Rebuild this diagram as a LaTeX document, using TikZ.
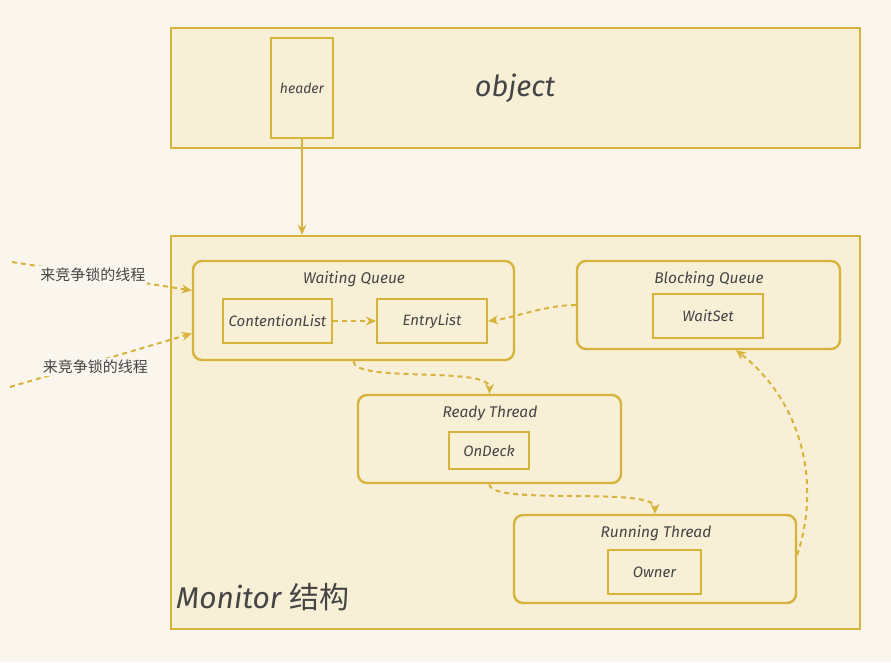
\documentclass[tikz,border=0pt]{standalone}
\usepackage{fontspec}
\setmainfont{Fira Sans}
\newfontfamily\cjkfont{Noto Sans CJK SC}
\usetikzlibrary{arrows.meta,calc}
\definecolor{bgc}{HTML}{FAF6EE}
\definecolor{boxfill}{HTML}{F8EFD7}
\definecolor{gold}{HTML}{D8B33C}
\definecolor{txt}{HTML}{454545}
\tikzset{
  x=1pt,y=-1pt,
  outerbox/.style={draw=gold,fill=boxfill,line width=2.6pt,minimum width=#1,inner sep=0pt},
  bigbox/.style 2 args={draw=gold,fill=boxfill,line width=2.4pt,rounded corners=9pt,minimum width=#1,minimum height=#2,inner sep=0pt},
  smallbox/.style 2 args={draw=gold,fill=boxfill,line width=2.2pt,minimum width=#1,minimum height=#2,inner sep=0pt},
  lab/.style={text=txt,font=\itshape\fontsize{15}{17}\selectfont,inner sep=0pt},
  title/.style={text=txt,font=\itshape\fontsize{15.5}{18}\selectfont,inner sep=0pt},
  dasharrow/.style={draw=gold,line width=2pt,dash pattern=on 5pt off 4pt,-{Stealth[length=10pt,width=9pt]}},
  solidarrow/.style={draw=gold,line width=1.8pt,-{Stealth[length=10pt,width=9pt]}},
  cnlab/.style={text=txt,font=\cjkfont\fontsize{15}{17}\selectfont,fill=bgc,inner sep=2pt},
}
\begin{document}
\begin{tikzpicture}
\fill[bgc] (0,0) rectangle (891,662);
\useasboundingbox (0,0) rectangle (891,662);
% object
\node[outerbox=689pt,minimum height=120pt] (obj) at (515.5,88) {};
\node[text=txt,font=\itshape\fontsize{29}{33}\selectfont,inner sep=0pt] (objt) at (515,88) {object};
\node[smallbox={62pt}{100pt},line width=2.4pt] (hdr) at (302,88) {};
\node[lab,font=\itshape\fontsize{14}{16}\selectfont] (hdrt) at (302,88) {header};
% monitor
\node[outerbox=689pt,minimum height=393pt] (mon) at (515.5,432.5) {};
\node[text=txt,font=\itshape\fontsize{30}{33}\selectfont,inner sep=0pt,anchor=west] (mont) at (176,597) {Monitor {\cjkfont\upshape 结构}};
\draw[solidarrow] (hdr.south) -- (hdr.south |- mon.north);
% waiting queue
\node[bigbox={321pt}{99pt}] (wq) at (353.5,310.5) {};
\node[title] (wqt) at (354,279) {Waiting Queue};
\node[smallbox={109pt}{44pt}] (cl) at (277.5,321) {};
\node[lab] (clt) at (277.5,321) {ContentionList};
\node[smallbox={110pt}{44pt}] (el) at (432,321) {};
\node[lab] (elt) at (432,321) {EntryList};
% blocking queue
\node[bigbox={263pt}{88pt}] (bq) at (708.5,305) {};
\node[title] (bqt) at (709,279) {Blocking Queue};
\node[smallbox={110pt}{44pt}] (ws) at (708,316) {};
\node[lab] (wst) at (708,316) {WaitSet};
% ready thread
\node[bigbox={263pt}{88pt}] (rt) at (489.5,439) {};
\node[title] (rtt) at (490,413) {Ready Thread};
\node[smallbox={80pt}{37pt}] (od) at (489,450.5) {};
\node[lab] (odt) at (489,450.5) {OnDeck};
% running thread
\node[bigbox={282pt}{88pt}] (run) at (655,559) {};
\node[title] (runt) at (656,533) {Running Thread};
\node[smallbox={93pt}{44pt}] (ow) at (654.5,572) {};
\node[lab] (owt) at (654.5,572) {Owner};
% connectors
\draw[dasharrow] (cl.east) -- (el.west);
\draw[dasharrow] (bq.west) .. controls +(-30,0) and +(25,-3) .. (el.east);
\draw[dasharrow] (wq.south) .. controls +(0,22) and +(0,-28) .. (rt.north);
\draw[dasharrow] (rt.south) .. controls +(0,22) and +(0,-28) .. (run.north);
\coordinate (bqin) at ([xshift=27.5pt]bq.south);
\draw[dasharrow] ([yshift=4pt]run.east) .. controls (822,480) and (800,400) .. (bqin);
% incoming threads
\coordinate (in1) at (12,262);
\coordinate (in2) at (10,387);
\draw[dasharrow] (in1) -- node[cnlab,pos=0.45] (l1) {来竞争锁的线程} ([yshift=20pt]wq.west);
\draw[dasharrow] (in2) -- node[cnlab,pos=0.47,yshift=-5pt] (l2) {来竞争锁的线程} ([yshift=-23pt]wq.west);
\end{tikzpicture}
\end{document}
